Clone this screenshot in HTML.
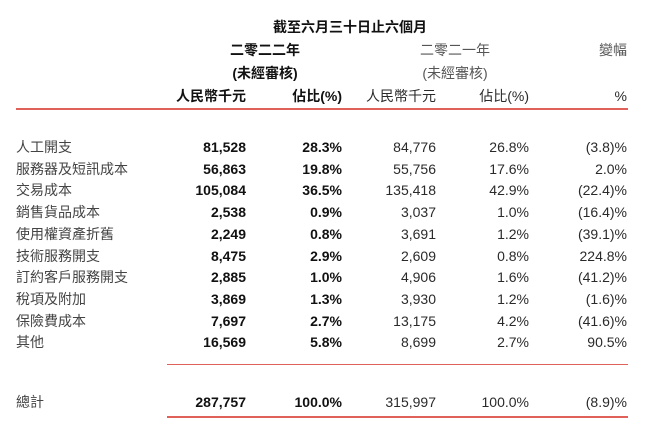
<!DOCTYPE html>
<html><head><meta charset="utf-8"><style>
body{margin:0;background:#fff;width:660px;height:435px;position:relative;overflow:hidden;font-family:"Liberation Sans","Noto Sans CJK TC",sans-serif;color:#2a2a2a;font-size:14px}
.t{position:absolute;white-space:nowrap;line-height:16px}
.r{text-align:right}
.b{font-weight:bold;color:#111}
.c{text-align:center}
.ln{position:absolute;background:#e0605a}
</style></head><body>
<div class="t b c" style="left:250px;top:19px;width:200px">截至六月三十日止六個月</div>
<div class="t b c" style="left:195px;top:42px;width:140px">二零二二年</div>
<div class="t c" style="left:385px;top:42px;width:140px;color:#555">二零二一年</div>
<div class="t r" style="left:540px;top:42px;width:87px;color:#555">變幅</div>
<div class="t b c" style="left:195px;top:65px;width:140px">(未經審核)</div>
<div class="t c" style="left:385px;top:65px;width:140px;color:#555">(未經審核)</div>
<div class="t b r" style="left:146px;top:88px;width:100px">人民幣千元</div>
<div class="t b r" style="left:262px;top:88px;width:80px">佔比(%)</div>
<div class="t r" style="left:336px;top:88px;width:100px">人民幣千元</div>
<div class="t r" style="left:449px;top:88px;width:80px">佔比(%)</div>
<div class="t r" style="left:547px;top:88px;width:80px">%</div>
<div class="ln" style="left:16px;top:108px;width:612px;height:2px"></div>
<div id="rows"></div>
<div class="ln" style="left:167px;top:364px;width:461px;height:1px"></div>
<div class="ln" style="left:167px;top:416px;width:461px;height:2px"></div>
<script>
const labels=["人工開支","服務器及短訊成本","交易成本","銷售貨品成本","使用權資產折舊","技術服務開支","訂約客戶服務開支","稅項及附加","保險費成本","其他","總計"];
const v2022=["81,528","56,863","105,084","2,538","2,249","8,475","2,885","3,869","7,697","16,569","287,757"];
const p2022=["28.3%","19.8%","36.5%","0.9%","0.8%","2.9%","1.0%","1.3%","2.7%","5.8%","100.0%"];
const v2021=["84,776","55,756","135,418","3,037","3,691","2,609","4,906","3,930","13,175","8,699","315,997"];
const p2021=["26.8%","17.6%","42.9%","1.0%","1.2%","0.8%","1.6%","1.2%","4.2%","2.7%","100.0%"];
const chg=["(3.8)%","2.0%","(22.4)%","(16.4)%","(39.1)%","224.8%","(41.2)%","(1.6)%","(41.6)%","90.5%","(8.9)%"];
const host=document.getElementById('rows');
const cols=[[v2022,146,100,true,'value-2022'],[p2022,262,80,true,'pct-2022'],[v2021,336,100,false,'value-2021'],[p2021,449,80,false,'pct-2021'],[chg,527,100,false,'change']];
labels.forEach((lab,i)=>{
  const top=i<10?139+i*21.7:394;
  const d=document.createElement('div');
  d.className='t';d.style.left='16px';d.style.top=top+'px';d.style.color='#444';d.textContent=lab;
  
  
  host.appendChild(d);
  cols.forEach(c=>{
    const e=document.createElement('div');
    e.className='t r'+(c[3]?' b':'');
    e.style.left=c[1]+'px';e.style.top=top+'px';e.style.width=c[2]+'px';
    e.textContent=c[0][i];
    
    
    host.appendChild(e);
  });
});
</script>
</body></html>
